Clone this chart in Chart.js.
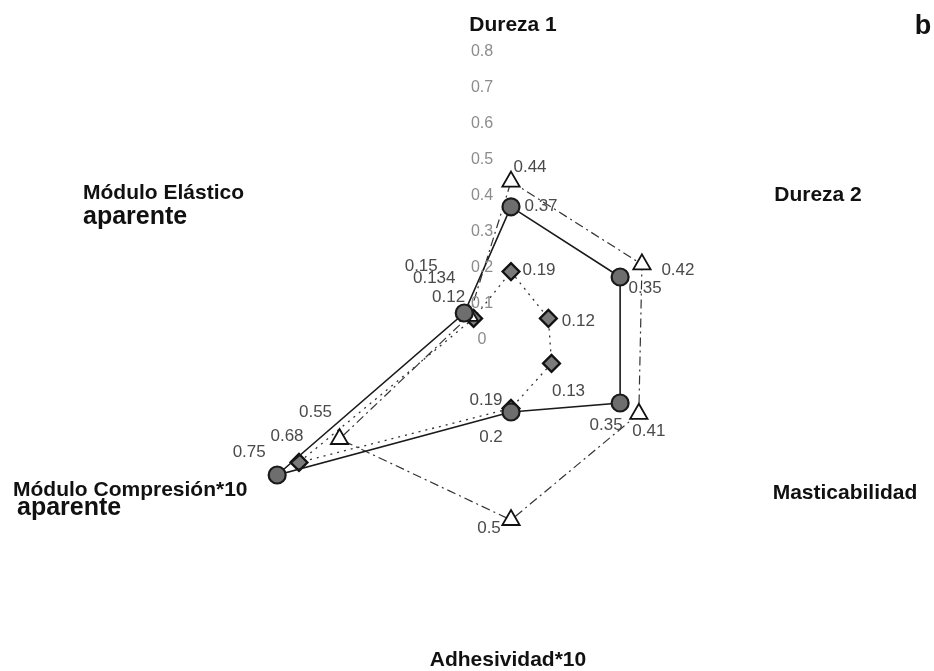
<!DOCTYPE html>
<html>
<head>
<meta charset="utf-8">
<script src="https://cdn.jsdelivr.net/npm/chart.js@4/dist/chart.umd.min.js"></script>
<style>
    body { margin: 0; background: #fff; }
    canvas { display: block; }
</style>
</head>
<body>
<canvas id="radar" width="934" height="671"></canvas>
<script>
// categories (clockwise from top)
const categories = ['Dureza 1', 'Dureza 2', 'Masticabilidad', 'Adhesividad*10', 'Módulo Compresión*10', 'Módulo Elástico'];

// series values
const serieCirculo = [0.37, 0.35, 0.35, 0.2, 0.75, 0.15];
const serieTriangulo = [0.44, 0.42, 0.41, 0.5, 0.55, 0.134];
const serieRombo = [0.19, 0.12, 0.13, 0.19, 0.68, 0.12];

// tick labels of the radial axis
const tickValues = [0, 0.1, 0.2, 0.3, 0.4, 0.5, 0.6, 0.7, 0.8];
const tickLabels = ['0', '0.1', '0.2', '0.3', '0.4', '0.5', '0.6', '0.7', '0.8'];

const FONT = '"Liberation Sans", Arial, sans-serif';

// where each value label sits relative to its point (px)
const valueLabelOffsets = [
    [[30, 0], [25, 11], [-14, 22], [-20, 25], [-28, -23], [-43, -47]],
    [[19, -14], [36, 6], [10, 18], [-22, 8], [-24, -27], [-35, -38]],
    [[28, -1], [30, 3], [17, 28], [-25, -8], [-12, -26], [-25, -21]]
];

// category labels relative to the chart centre (px)
const categoryLabelLayout = [
    { lines: ['Dureza 1'], x: 2, y: -315, align: 'center' },
    { lines: ['Dureza 2'], x: 307, y: -145, align: 'center' },
    { lines: ['Masticabilidad'], x: 334, y: 153, align: 'center' },
    { lines: ['Adhesividad*10'], x: -3, y: 320, align: 'center' },
    { lines: ['Módulo Compresión*10', 'aparente'], x: -498, y: 150, align: 'left', dx2: 4, dy2: 18 },
    { lines: ['Módulo Elástico', 'aparente'], x: -428, y: -147, align: 'left', dx2: 0, dy2: 24 }
];

const customLabels = {
    id: 'customLabels',
    afterDatasetsDraw(chart) {
        const ctx = chart.ctx;
        const r = chart.scales.r;
        const cx = r.xCenter, cy = r.yCenter;
        ctx.save();

        // radial ticks, left of the vertical axis
        ctx.fillStyle = '#8c8c8c';
        ctx.font = '16px ' + FONT;
        ctx.textAlign = 'center';
        ctx.textBaseline = 'middle';
        tickValues.forEach((v, i) => {
            const d = r.getDistanceFromCenterForValue(v);
            ctx.fillText(tickLabels[i], cx - 29, cy - d);
        });

        // value labels
        ctx.fillStyle = '#4a4a4a';
        ctx.font = '17px ' + FONT;
        chart.data.datasets.forEach((ds, di) => {
            const meta = chart.getDatasetMeta(di);
            meta.data.forEach((pt, i) => {
                const off = valueLabelOffsets[di][i];
                ctx.fillText(String(ds.data[i]), pt.x + off[0], pt.y + off[1]);
            });
        });

        // category labels
        ctx.fillStyle = '#111';
        categoryLabelLayout.forEach(lab => {
            ctx.textAlign = lab.align;
            ctx.font = 'bold 21px ' + FONT;
            ctx.fillText(lab.lines[0], cx + lab.x, cy + lab.y);
            if (lab.lines[1]) {
                ctx.font = 'bold 25px ' + FONT;
                ctx.fillText(lab.lines[1], cx + lab.x + lab.dx2, cy + lab.y + lab.dy2);
            }
        });

        // panel letter
        ctx.textAlign = 'center';
        ctx.font = 'bold 27px ' + FONT;
        ctx.fillText('b', 923, 27);
        ctx.restore();
    }
};

new Chart(document.getElementById('radar'), {
    type: 'radar',
    data: {
        labels: categories,
        datasets: [
            {
                label: 'A',
                data: serieCirculo,
                borderColor: '#1a1a1a',
                borderWidth: 1.6,
                backgroundColor: 'transparent',
                fill: false,
                pointStyle: 'circle',
                pointRadius: 8.5,
                pointBackgroundColor: '#6e6e6e',
                pointBorderColor: '#1a1a1a',
                pointBorderWidth: 2.2
            },
            {
                label: 'B',
                data: serieTriangulo,
                borderColor: '#333',
                borderWidth: 1.2,
                borderDash: [9, 4, 2, 4],
                backgroundColor: 'transparent',
                fill: false,
                pointStyle: 'triangle',
                pointRadius: 10,
                pointBackgroundColor: '#fff',
                pointBorderColor: '#111',
                pointBorderWidth: 1.8
            },
            {
                label: 'C',
                data: serieRombo,
                borderColor: '#333',
                borderWidth: 1.3,
                borderDash: [2, 5],
                backgroundColor: 'transparent',
                fill: false,
                pointStyle: 'rectRot',
                pointRadius: 8.5,
                pointBackgroundColor: '#7a7a7a',
                pointBorderColor: '#111',
                pointBorderWidth: 2.2
            }
        ]
    },
    options: {
        responsive: false,
        animation: false,
        layout: {
            padding: { left: 223, right: 135, top: 52, bottom: 43 }
        },
        scales: {
            r: {
                min: 0,
                max: 0.8,
                ticks: { display: false, stepSize: 0.1 },
                grid: { display: false },
                angleLines: { display: false },
                pointLabels: { display: false }
            }
        },
        elements: {
            line: { tension: 0 }
        },
        plugins: {
            legend: { display: false },
            tooltip: { enabled: false }
        }
    },
    plugins: [customLabels]
});
</script>
</body>
</html>
